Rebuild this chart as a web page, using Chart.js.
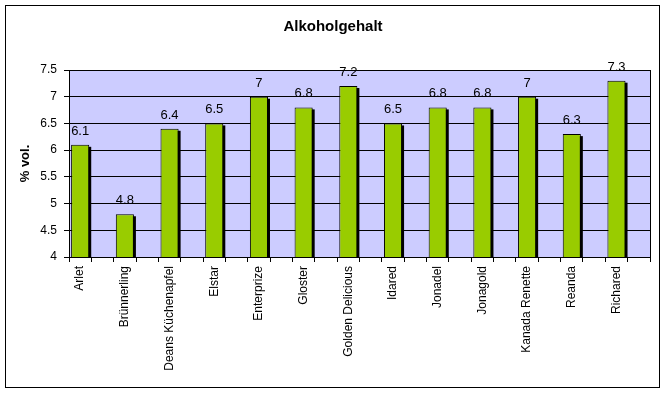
<!DOCTYPE html>
<html>
<head>
<meta charset="utf-8">
<script src="https://cdn.jsdelivr.net/npm/chart.js@4"></script>
<style>
body { margin: 0; background: #fff; }
</style>
</head>
<body>
<canvas id="myChart" width="666" height="394"></canvas>
<script>
const sorten = ['Arlet', 'Brünnerling', 'Deans Küchenapfel', 'Elstar', 'Enterprize', 'Gloster',
    'Golden Delicious', 'Idared', 'Jonadel', 'Jonagold', 'Kanada Renette', 'Reanda', 'Richared'];
const alkohol = [6.1, 4.8, 6.4, 6.5, 7, 6.8, 7.2, 6.5, 6.8, 6.8, 7, 6.3, 7.3];
const yTicks = [4, 4.5, 5, 5.5, 6, 6.5, 7, 7.5];

// jede Sorte bekommt einen leeren Platz daneben (wie im Excel-Diagramm)
let labels = [];
let werte = [];
sorten.forEach((s, i) => {
    labels.push(s, '');
    werte.push(alkohol[i], null);
});

Chart.defaults.font.family = 'Arial, "Liberation Sans", sans-serif';
Chart.defaults.color = '#000';

/* HINTERGRUND UND RAHMEN */
const hintergrund = {
    id: 'hintergrund',
    beforeDraw(chart) {
        const { ctx, chartArea: a } = chart;
        ctx.save();
        ctx.fillStyle = '#fff';
        ctx.fillRect(0, 0, chart.width, chart.height);
        ctx.strokeStyle = '#000';
        ctx.lineWidth = 1;
        ctx.strokeRect(5.5, 5.5, 654, 382);
        ctx.fillStyle = '#ccccff';
        ctx.fillRect(a.left, a.top, a.width, a.height);
        ctx.beginPath();
        ctx.moveTo(Math.round(a.right) + 0.5, a.top);
        ctx.lineTo(Math.round(a.right) + 0.5, a.bottom);
        ctx.stroke();
        ctx.restore();
    }
};

/* SCHATTEN DER BALKEN */
const schatten = {
    id: 'schatten',
    beforeDatasetDraw(chart) {
        const { ctx, chartArea: a } = chart;
        const meta = chart.getDatasetMeta(0);
        ctx.save();
        ctx.beginPath();
        ctx.rect(a.left, a.top, a.width, a.height);
        ctx.clip();
        ctx.fillStyle = '#000';
        meta.data.forEach((bar, i) => {
            if (werte[i] == null) return;
            const p = bar.getProps(['x', 'y', 'width', 'base'], true);
            ctx.fillRect(p.x - p.width / 2 + 2, p.y + 2, p.width, p.base - p.y);
        });
        ctx.restore();
    }
};

/* WERTE UEBER DEN BALKEN */
const werteLabels = {
    id: 'werteLabels',
    afterDatasetsDraw(chart) {
        const ctx = chart.ctx;
        const meta = chart.getDatasetMeta(0);
        ctx.save();
        ctx.font = '13px Arial, "Liberation Sans", sans-serif';
        ctx.fillStyle = '#000';
        ctx.textAlign = 'center';
        ctx.textBaseline = 'alphabetic';
        meta.data.forEach((bar, i) => {
            const v = werte[i];
            if (v == null) return;
            ctx.fillText(String(v), bar.x, bar.y - 10);
        });
        ctx.restore();
    }
};

const ctx = document.getElementById('myChart');

const config = {
    type: 'bar',
    data: {
        labels: labels,
        datasets: [{
            label: 'Alkoholgehalt',
            data: werte,
            backgroundColor: 'rgb(153, 204, 0)',
            borderColor: '#000',
            borderWidth: 1,
            barPercentage: 0.81,
            categoryPercentage: 1
        }]
    },
    options: {
        responsive: false,
        animation: false,
        layout: { padding: { left: 16, right: 16, top: 0, bottom: 0 } },
        plugins: {
            legend: { display: false },
            tooltip: { enabled: false },
            title: {
                display: true,
                text: 'Alkoholgehalt',
                color: '#000',
                font: { size: 15, weight: 'bold' },
                padding: { top: 18, bottom: 34 }
            }
        },
        scales: {
            x: {
                grid: { display: true, drawOnChartArea: false, offset: true, tickLength: 5, color: '#000' },
                border: { color: '#000' },
                ticks: { autoSkip: false, maxRotation: 90, minRotation: 90, padding: 4, font: { size: 12 } },
                afterFit(s) { s.height = 137; }
            },
            y: {
                min: 4,
                max: 7.5,
                afterBuildTicks(s) { s.ticks = yTicks.map(v => ({ value: v })); },
                ticks: { padding: 7, font: { size: 12 }, callback: v => String(v) },
                grid: { color: '#000', tickLength: 5 },
                border: { color: '#000' },
                title: {
                    display: true,
                    text: '% vol.',
                    color: '#000',
                    font: { size: 13, weight: 'bold' },
                    padding: { top: 2, bottom: 0 }
                },
                afterFit(s) { s.width = 53; }
            }
        }
    },
    plugins: [hintergrund, schatten, werteLabels]
};

const chart = new Chart(ctx, config);
</script>
</body>
</html>
